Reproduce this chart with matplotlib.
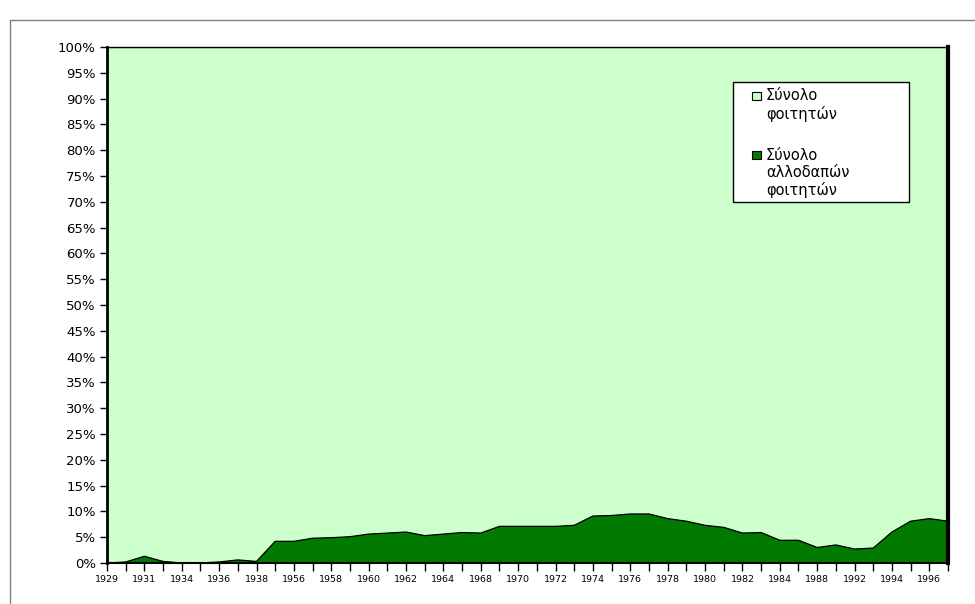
import matplotlib
matplotlib.use("Agg")
import matplotlib.pyplot as plt
from matplotlib.patches import Rectangle
import numpy as np

plt.rcParams['font.family'] = ['DejaVu Sans']

# Category years (every second one labelled on the axis)
years = ["1929", "1930", "1931", "1932", "1934", "1935", "1936", "1937", "1938", "1955",
         "1956", "1957", "1958", "1959", "1960", "1961", "1962", "1963", "1964", "1966",
         "1968", "1969", "1970", "1971", "1972", "1973", "1974", "1975", "1976", "1977",
         "1978", "1979", "1980", "1981", "1982", "1983", "1984", "1986", "1988", "1990",
         "1992", "1993", "1994", "1995", "1996", "1997"]

# Share of foreign students (%) of total students
foreign_pct = [0.0, 0.2, 1.3, 0.3, 0.0, 0.0, 0.2, 0.6, 0.3, 4.2,
               4.2, 4.8, 4.9, 5.1, 5.6, 5.8, 6.0, 5.3, 5.6, 5.9,
               5.8, 7.1, 7.1, 7.1, 7.1, 7.3, 9.1, 9.2, 9.5, 9.5,
               8.6, 8.1, 7.3, 6.9, 5.8, 5.9, 4.4, 4.4, 3.0, 3.5,
               2.7, 2.9, 6.0, 8.1, 8.6, 8.1]

total_pct = [100.0] * len(years)

series_labels = [["Σύνολο", "φοιτητών"], ["Σύνολο", "αλλοδαπών", "φοιτητών"]]
light = "#CCFFCC"
dark = "#007A00"

W, H = 975, 604
fig = plt.figure(figsize=(W / 100, H / 100), dpi=100)
fig.patch.set_facecolor("white")


def fx(px):
    return px / W


def fy(py):
    return 1 - py / H


# chart-area frame (gray)
fig.patches.append(Rectangle((fx(10), -0.05), 1.2, fy(20) + 0.05,
                             transform=fig.transFigure, fill=False,
                             edgecolor="#808080", linewidth=1.0, zorder=0))

ax = fig.add_axes([fx(107), fy(563), (948 - 107) / W, (563 - 47) / H])
x = np.arange(len(years))
fp = np.array(foreign_pct)
tp = np.array(total_pct)

ax.fill_between(x, fp, tp, facecolor=light, edgecolor="black", linewidth=0.8, zorder=1)
ax.fill_between(x, 0, fp, facecolor=dark, edgecolor="none", zorder=2)
ax.plot(x, fp, color="black", linewidth=0.9, zorder=3)

ax.set_xlim(0, len(years) - 1)
ax.set_ylim(0, 100)
ax.set_facecolor(light)

yt = np.arange(0, 101, 5)
ax.set_yticks(yt)
ax.set_yticklabels([f"{v}%" for v in yt], fontsize=9.5)
ax.set_xticks(x)
ax.set_xticklabels([y if i % 2 == 0 else "" for i, y in enumerate(years)], fontsize=6.8)
ax.tick_params(axis="y", direction="out", length=5, width=1, pad=3)
ax.tick_params(axis="x", direction="out", length=6, width=1, pad=3)

ax.spines["left"].set_linewidth(2.0)
ax.spines["bottom"].set_linewidth(1.5)
ax.spines["right"].set_linewidth(3.0)
ax.spines["top"].set_linewidth(1.0)
for s in ax.spines.values():
    s.set_zorder(5)

# legend drawn manually (box, swatches, multi-line labels)
fig.patches.append(Rectangle((fx(733), fy(202)), (909 - 733) / W, (202 - 82) / H,
                             transform=fig.transFigure, facecolor="white",
                             edgecolor="black", linewidth=1.0, zorder=6))
entry_tops = [96, 155]
colors = [light, dark]
for top, col, lines in zip(entry_tops, colors, series_labels):
    fig.patches.append(Rectangle((fx(752), fy(top + 4)), 9 / W, 8 / H,
                                 transform=fig.transFigure, facecolor=col,
                                 edgecolor="black", linewidth=0.8, zorder=7))
    for k, ln in enumerate(lines):
        fig.text(fx(766), fy(top + 17.5 * k), ln, fontsize=10.5,
                 ha="left", va="center", zorder=8)

fig.savefig("out.png", dpi=100)
